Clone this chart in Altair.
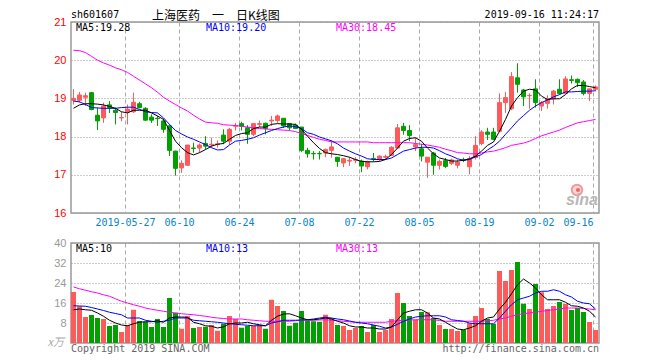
import altair as alt
import pandas as pd

# ---------------- data ----------------
opens = [18.95, 18.95, 19.03, 19.15, 18.56, 18.49, 18.83, 18.69, 18.49, 18.65,
         18.65, 18.86, 18.74, 18.51, 18.48, 18.41, 18.28, 17.62, 17.18, 17.25,
         17.70, 17.70, 17.82, 17.78, 17.79, 18.04, 17.88, 18.27, 18.34, 18.23,
         18.06, 18.32, 18.35, 18.41, 18.42, 18.48, 18.34, 18.30, 18.25, 17.64,
         17.56, 17.56, 17.57, 17.64, 17.46, 17.31, 17.36, 17.38, 17.36, 17.21,
         17.43, 17.40, 17.46, 17.51, 17.70, 18.27, 18.16, 17.73, 17.68, 17.33,
         17.57, 17.25, 17.37, 17.30, 17.25, 17.39, 17.21, 17.45, 17.82, 18.12,
         18.12, 18.14, 18.89, 18.73, 19.54, 19.22, 19.07, 19.25, 18.80, 18.87,
         18.99, 19.24, 19.13, 19.49, 19.50, 19.43, 19.13, 19.24]
highs = [19.24, 19.17, 19.15, 19.17, 18.76, 18.89, 18.93, 18.76, 18.65, 18.84,
         19.15, 18.91, 18.77, 18.58, 18.54, 18.47, 18.32, 17.63, 17.38, 17.78,
         17.84, 17.82, 18.01, 17.97, 17.90, 18.19, 18.23, 18.36, 18.39, 18.30,
         18.36, 18.42, 18.36, 18.54, 18.58, 18.48, 18.34, 18.34, 18.25, 17.71,
         17.62, 17.62, 17.69, 17.90, 17.46, 17.44, 17.47, 17.46, 17.40, 17.37,
         17.57, 17.51, 17.53, 17.75, 18.33, 18.36, 18.30, 17.97, 17.81, 17.46,
         17.60, 17.40, 17.44, 17.42, 17.40, 17.45, 17.49, 18.01, 18.17, 18.23,
         18.23, 19.13, 19.17, 19.69, 19.92, 19.25, 19.13, 19.50, 18.93, 19.08,
         19.22, 19.50, 19.58, 19.60, 19.52, 19.48, 19.25, 19.34]
lows = [18.84, 18.89, 18.80, 18.69, 18.17, 18.36, 18.62, 18.32, 18.40, 18.32,
        18.62, 18.74, 18.41, 18.36, 18.28, 18.10, 17.49, 16.98, 17.05, 17.23,
        17.58, 17.58, 17.66, 17.71, 17.71, 17.80, 17.78, 18.16, 18.16, 17.81,
        18.01, 18.25, 18.06, 18.28, 18.36, 18.23, 18.16, 18.21, 17.60, 17.45,
        17.40, 17.40, 17.46, 17.45, 17.21, 17.20, 17.23, 17.30, 17.07, 17.14,
        17.35, 17.36, 17.40, 17.49, 17.69, 18.05, 17.88, 17.62, 17.35, 16.92,
        17.00, 17.14, 17.18, 17.26, 17.17, 17.33, 17.01, 17.40, 17.77, 17.91,
        17.91, 18.12, 18.62, 18.69, 19.15, 18.80, 18.73, 18.76, 18.67, 18.73,
        18.84, 19.10, 19.13, 19.39, 19.30, 19.08, 18.93, 19.19]
closes = [19.00, 19.09, 19.07, 18.71, 18.41, 18.80, 18.76, 18.63, 18.50, 18.72,
          18.90, 18.76, 18.43, 18.43, 18.47, 18.19, 17.64, 17.17, 17.30, 17.78,
          17.69, 17.78, 17.75, 17.80, 17.81, 17.88, 18.19, 18.29, 18.27, 18.06,
          18.34, 18.34, 18.21, 18.43, 18.54, 18.28, 18.23, 18.21, 17.64, 17.55,
          17.55, 17.55, 17.66, 17.73, 17.35, 17.42, 17.38, 17.40, 17.23, 17.34,
          17.42, 17.49, 17.48, 17.72, 18.23, 18.16, 18.03, 17.79, 17.49, 17.46,
          17.25, 17.35, 17.22, 17.39, 17.33, 17.38, 17.42, 17.77, 18.12, 18.06,
          17.93, 18.89, 19.02, 19.57, 19.37, 19.04, 19.08, 18.89, 18.89, 18.99,
          19.19, 19.13, 19.51, 19.47, 19.41, 19.13, 19.25, 19.30]
ma5 = [18.74, 18.83, 18.86, 18.86, 18.85, 18.83, 18.79, 18.74, 18.65, 18.62,
       18.69, 18.69, 18.69, 18.62, 18.54, 18.45, 18.16, 17.88, 17.71, 17.58,
       17.52, 17.58, 17.66, 17.75, 17.80, 17.82, 17.93, 18.03, 18.08, 18.10,
       18.21, 18.25, 18.25, 18.32, 18.34, 18.33, 18.33, 18.32, 18.19, 18.01,
       17.84, 17.69, 17.58, 17.55, 17.53, 17.50, 17.46, 17.40, 17.35, 17.34,
       17.34, 17.35, 17.40, 17.53, 17.70, 17.88, 17.95, 17.97, 17.88, 17.70,
       17.55, 17.44, 17.40, 17.36, 17.36, 17.38, 17.42, 17.49, 17.62, 17.77,
       17.86, 18.14, 18.45, 18.80, 19.02, 19.19, 19.24, 19.22, 19.06, 18.97,
       18.99, 18.99, 19.10, 19.25, 19.34, 19.34, 19.31, 19.28]
ma10 = [18.93, 18.91, 18.84, 18.76, 18.75, 18.74, 18.74, 18.74, 18.76, 18.77,
        18.77, 18.71, 18.65, 18.63, 18.62, 18.49, 18.32, 18.16, 18.07, 17.99,
        17.93, 17.86, 17.79, 17.71, 17.65, 17.66, 17.78, 17.88, 17.90, 17.93,
        17.97, 18.04, 18.10, 18.16, 18.21, 18.25, 18.28, 18.26, 18.21, 18.10,
        18.06, 17.99, 17.94, 17.89, 17.81, 17.70, 17.62, 17.55, 17.49, 17.42,
        17.40, 17.40, 17.40, 17.44, 17.53, 17.62, 17.66, 17.70, 17.72, 17.72,
        17.70, 17.63, 17.55, 17.49, 17.42, 17.38, 17.40, 17.47, 17.53, 17.65,
        17.75, 17.88, 18.06, 18.23, 18.41, 18.55, 18.69, 18.80, 18.89, 18.96,
        19.04, 19.10, 19.17, 19.17, 19.18, 19.19, 19.19, 19.20]
ma30 = [20.26, 20.25, 20.20, 20.10, 20.00, 19.93, 19.87, 19.80, 19.75, 19.68,
        19.58, 19.48, 19.38, 19.28, 19.16, 19.03, 18.93, 18.84, 18.75, 18.67,
        18.56, 18.46, 18.38, 18.36, 18.35, 18.31, 18.30, 18.29, 18.27, 18.25,
        18.23, 18.21, 18.20, 18.19, 18.18, 18.17, 18.16, 18.13, 18.08, 18.03,
        17.98, 17.93, 17.90, 17.86, 17.86, 17.86, 17.86, 17.86, 17.86, 17.86,
        17.84, 17.84, 17.84, 17.84, 17.84, 17.84, 17.84, 17.82, 17.80, 17.78,
        17.75, 17.72, 17.67, 17.63, 17.58, 17.57, 17.55, 17.55, 17.57, 17.60,
        17.62, 17.66, 17.71, 17.77, 17.80, 17.83, 17.88, 17.95, 18.02, 18.07,
        18.12, 18.17, 18.24, 18.30, 18.36, 18.39, 18.42, 18.45]
vols = [20.4, 14.7, 10.4, 11.2, 10.0, 9.6, 6.8, 7.2, 4.4, 7.2,
        13.3, 8.8, 8.5, 6.4, 9.6, 6.4, 18.0, 12.1, 5.7, 10.7,
        6.0, 6.4, 6.5, 7.2, 4.9, 7.7, 10.8, 9.6, 6.1, 6.8,
        6.8, 7.2, 5.7, 17.3, 14.8, 12.8, 6.9, 8.1, 12.8, 8.9,
        8.7, 8.5, 11.3, 10.0, 7.2, 6.8, 5.2, 6.0, 6.8, 4.4,
        7.2, 4.4, 5.2, 9.6, 20.0, 16.0, 10.8, 9.3, 12.4, 12.3,
        10.0, 7.2, 5.6, 5.6, 4.8, 5.2, 8.0, 10.8, 14.0, 9.6,
        7.6, 28.8, 24.8, 29.2, 32.4, 15.7, 13.6, 23.6, 20.3, 13.6,
        14.8, 16.4, 15.6, 13.2, 14.0, 12.4, 8.4, 5.2]
vma5 = [13.3, 13.6, 13.3, 13.1, 12.0, 10.7, 9.1, 8.0, 7.2, 6.9,
        7.7, 8.3, 8.5, 8.5, 8.9, 8.3, 10.0, 10.4, 10.4, 10.3,
        8.3, 7.7, 6.9, 6.7, 6.0, 6.5, 7.7, 8.0, 8.0, 8.3,
        7.7, 7.3, 6.9, 9.1, 10.7, 11.6, 11.7, 10.9, 10.0, 9.3,
        9.3, 9.6, 10.0, 9.6, 8.7, 8.0, 6.9, 6.4, 6.4, 6.0,
        6.0, 5.6, 5.6, 6.4, 9.3, 12.0, 12.7, 13.3, 13.3, 12.0,
        10.0, 9.6, 8.3, 6.9, 5.6, 5.3, 6.0, 6.9, 8.7, 10.0,
        10.4, 13.6, 16.3, 19.7, 23.3, 25.6, 24.0, 22.0, 19.3, 17.3,
        17.3, 17.3, 16.3, 14.9, 14.7, 14.0, 12.7, 10.4]
vma10 = [14.9, 14.8, 14.7, 14.2, 13.6, 13.0, 12.3, 11.8, 11.3, 10.0,
         10.0, 10.0, 9.1, 8.7, 8.3, 8.7, 9.1, 10.0, 10.0, 10.0,
         9.1, 8.9, 8.7, 8.5, 8.3, 8.0, 7.7, 7.5, 7.3, 7.1,
         6.9, 6.9, 6.9, 8.0, 8.5, 9.1, 9.1, 9.1, 9.2, 9.3,
         9.6, 10.0, 10.3, 10.0, 9.6, 9.3, 8.8, 8.3, 8.0, 7.7,
         7.2, 6.7, 6.0, 6.4, 7.5, 8.7, 9.6, 10.4, 10.7, 10.9,
         10.9, 10.9, 10.4, 9.3, 9.0, 8.7, 8.0, 7.7, 7.7, 7.7,
         7.7, 10.0, 12.7, 15.3, 17.3, 18.0, 18.7, 20.0, 20.7, 20.7,
         21.3, 20.7, 19.3, 18.4, 16.7, 16.0, 15.7, 13.6]
vma30 = [22.4, 21.7, 21.1, 20.5, 20.0, 19.3, 18.7, 17.7, 16.7, 16.0,
         15.3, 14.7, 14.0, 13.5, 13.1, 12.7, 12.3, 12.0, 11.7, 11.5,
         11.3, 11.0, 10.7, 10.3, 10.0, 9.8, 9.6, 9.6, 9.6, 9.3,
         9.1, 8.9, 8.7, 8.7, 8.7, 8.7, 8.7, 8.9, 9.1, 9.1,
         9.1, 9.2, 9.3, 9.1, 8.9, 8.7, 8.5, 8.3, 8.3, 8.3,
         8.3, 8.3, 8.3, 8.7, 8.9, 9.1, 9.2, 9.3, 9.3, 9.3,
         9.3, 9.0, 8.7, 8.7, 8.7, 8.7, 8.7, 8.7, 8.7, 8.9,
         9.1, 9.6, 10.0, 10.7, 11.3, 11.7, 12.0, 12.3, 12.7, 13.0,
         13.3, 13.6, 14.0, 14.0, 14.0, 13.8, 13.6, 13.3]

tick_idx = [9, 18, 28, 38, 48, 58, 68, 78, 87]
tick_lab = ["2019-05-27", "06-10", "06-24", "07-08", "07-22",
            "08-05", "08-19", "09-02", "09-16"]
price_ticks = [16, 17, 18, 19, 20, 21]
vol_ticks = [8, 16, 24, 32, 40]

code = "sh601607"
title_cn = "上海医药\u3000一\u3000日K线图"
stamp = "2019-09-16 11:24:17"
price_ma_labels = ["MA5:19.28", "MA10:19.20", "MA30:18.45"]
vol_ma_labels = ["MA5:10", "MA10:13", "MA30:13"]

# ---------------- styles ----------------
RED, GREEN = "#ff5a5a", "#00a000"
MA_COLORS = ["#000000", "#0000ff", "#ff00ff"]
DATE_BLUE = "#0a84cc"
MONO = "DejaVu Sans Mono"
SANS = "Liberation Sans"
N = len(opens)
W = 6 * N
H_PRICE, H_VOL = 191, 100

df = pd.DataFrame({
    "i": list(range(N)), "open": opens, "high": highs, "low": lows,
    "close": closes, "ma5": ma5, "ma10": ma10, "ma30": ma30,
    "vol": vols, "vma5": vma5, "vma10": vma10, "vma30": vma30,
})
df["dir"] = ["up" if c >= o else "down" for o, c in zip(opens, closes)]

label_expr = " : ".join(
    f"datum.value == {v} ? '{t}'" for v, t in zip(tick_idx, tick_lab)) + " : ''"

xs = alt.Scale(domain=[0, N], nice=False, zero=False)
col_scale = alt.Scale(domain=["up", "down"], range=[RED, GREEN])

x_price_axis = alt.Axis(values=tick_idx, labelExpr=label_expr, grid=True,
                        gridDash=[4, 3], gridColor="#aaaaaa", gridWidth=1,
                        domain=False, ticks=False, labelColor=DATE_BLUE,
                        labelFont=MONO, labelFontSize=10, labelPadding=4,
                        labelFlush=10, labelOverlap=False, title=None,
                        minExtent=16, maxExtent=16)
x_vol_axis = alt.Axis(values=tick_idx, labels=False, grid=True,
                      gridDash=[4, 3], gridColor="#aaaaaa", gridWidth=1,
                      domain=False, ticks=False, title=None,
                      minExtent=0, maxExtent=0)
y_price_axis = alt.Axis(values=price_ticks, grid=True, gridDash=[1, 2],
                        gridColor="#999999", domain=False, ticks=False,
                        labelColor="#ff0000", labelFont=SANS, labelFontSize=11,
                        labelPadding=5, title=None, format="d",
                        minExtent=28, maxExtent=28)
y_vol_axis = alt.Axis(values=vol_ticks, grid=True, gridDash=[1, 2],
                      gridColor="#999999", domain=False, ticks=False,
                      labelColor="#999999", labelFont=SANS, labelFontSize=11,
                      labelPadding=5, title=None, format="d",
                      minExtent=28, maxExtent=28)
ys_price = alt.Scale(domain=[16, 21], nice=False, zero=False)
ys_vol = alt.Scale(domain=[0, 40], nice=False, zero=True)

base = alt.Chart(df).transform_calculate(
    xc="datum.i + 2.5/6", bx0="datum.i + 0.5/6", bx1="datum.i + 4.5/6",
    vx1="datum.i + 5/6")


def label(text, x, y, color, size=10, font=MONO, align="left", **kw):
    return alt.Chart(pd.DataFrame({"t": [text]})).mark_text(
        align=align, baseline="alphabetic", font=font, fontSize=size,
        color=color, **kw).encode(text="t:N", x=alt.value(x), y=alt.value(y))


def dot(x, y, size, fill, stroke, sw):
    return alt.Chart(pd.DataFrame({"t": [0]})).mark_point(
        shape="circle", filled=True, size=size, fill=fill, stroke=stroke,
        strokeWidth=sw, opacity=1).encode(x=alt.value(x), y=alt.value(y))


# ---------------- price panel ----------------
wick = base.mark_rule(strokeWidth=1).encode(
    x=alt.X("xc:Q", scale=xs, axis=x_price_axis),
    y=alt.Y("low:Q", scale=ys_price, axis=y_price_axis),
    y2="high:Q",
    color=alt.Color("dir:N", scale=col_scale, legend=None))
body = base.mark_rect(strokeWidth=1).encode(
    x=alt.X("bx0:Q", scale=xs, axis=x_price_axis), x2="bx1:Q",
    y=alt.Y("open:Q", scale=ys_price, axis=y_price_axis), y2="close:Q",
    color=alt.Color("dir:N", scale=col_scale, legend=None),
    stroke=alt.Stroke("dir:N", scale=col_scale, legend=None))
price_lines = [
    base.mark_line(strokeWidth=1, color=c).encode(
        x=alt.X("xc:Q", scale=xs, axis=x_price_axis),
        y=alt.Y(f"{f}:Q", scale=ys_price, axis=y_price_axis))
    for f, c in zip(["ma30", "ma10", "ma5"], MA_COLORS[::-1])]

watermark = [
    dot(W - 22, H_PRICE - 23, 110, "#fbd9d9", "#f29a9a", 2),
    dot(W - 21, H_PRICE - 23, 18, "#e86a6a", "#e86a6a", 0),
    label("sina", W - 1, H_PRICE - 8, "#b8b8b8", size=16, font=SANS,
          align="right", fontStyle="italic", fontWeight="bold"),
]

price_texts = [
    label(code, 0, -4, "#000000"),
    label(title_cn, 81, -2, "#000000", size=12, font="Noto Sans CJK SC"),
    label(stamp, W, -4, "#000000", align="right"),
] + [label(t, x, 9, c) for t, x, c in zip(price_ma_labels, [5, 135, 265], MA_COLORS)]

price = alt.layer(wick, body, *price_lines, *watermark, *price_texts).properties(
    width=W, height=H_PRICE)

# ---------------- volume panel ----------------
vbars = base.mark_rect().encode(
    x=alt.X("i:Q", scale=xs, axis=x_vol_axis), x2="vx1:Q",
    y=alt.Y("vol:Q", scale=ys_vol, axis=y_vol_axis), y2=alt.datum(0),
    color=alt.Color("dir:N", scale=col_scale, legend=None))
vol_lines = [
    base.mark_line(strokeWidth=1, color=c).encode(
        x=alt.X("xc:Q", scale=xs, axis=x_vol_axis),
        y=alt.Y(f"{f}:Q", scale=ys_vol, axis=y_vol_axis))
    for f, c in zip(["vma30", "vma10", "vma5"], MA_COLORS[::-1])]
vol_texts = [label(t, x, 9, c) for t, x, c in zip(vol_ma_labels, [5, 135, 265], MA_COLORS)] + [
    label("x万", -7, H_VOL + 3, "#aaaaaa", size=11, font="Noto Sans CJK SC",
          align="right", fontStyle="italic"),
    label("Copyright 2019 SINA.COM", 0, H_VOL + 9, "#666666"),
    label("http://finance.sina.com.cn", W, H_VOL + 9, "#666666", align="right"),
]
volume = alt.layer(vbars, *vol_lines, *vol_texts).properties(width=W, height=H_VOL)

chart = alt.vconcat(price, volume, spacing=6).properties(
    padding={"left": 34, "top": 1, "right": 5, "bottom": 0},
    background="#ffffff",
).configure_view(stroke="#999999", strokeWidth=1.5)

chart.save("out.html", embed_options={"renderer": "svg", "actions": False})
